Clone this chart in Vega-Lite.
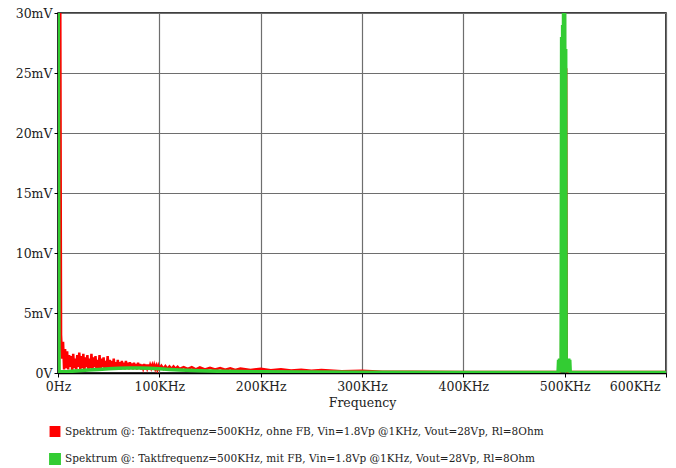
{
  "$schema": "https://vega.github.io/schema/vega-lite/v6.json",
  "width": 608,
  "height": 360,
  "autosize": {"type": "none"},
  "padding": {"left": 58, "top": 13, "right": 10, "bottom": 95},
  "background": "white",
  "config": {
    "view": {"stroke": "black", "strokeWidth": 1.5},
    "font": "DejaVu Serif",
    "axis": {
      "labelFont": "DejaVu Serif",
      "labelFontSize": 12.5,
      "labelColor": "#222",
      "titleFont": "DejaVu Serif",
      "titleFontSize": 12.5,
      "titleFontWeight": "normal",
      "titleColor": "#222",
      "gridColor": "#6e6e6e",
      "gridWidth": 1.2,
      "domainColor": "black",
      "domainWidth": 1.5,
      "tickColor": "black",
      "tickSize": 4,
      "labelPadding": 3
    }
  },
  "data": {
    "values": [
      {"series": "ohne", "f": 0, "v": 0.1},
      {"series": "ohne", "f": 1, "v": 0.3},
      {"series": "ohne", "f": 2, "v": 40},
      {"series": "ohne", "f": 3, "v": 3.2},
      {"series": "ohne", "f": 4, "v": 1.2},
      {"series": "ohne", "f": 5, "v": 2.6},
      {"series": "ohne", "f": 6, "v": 0.3},
      {"series": "ohne", "f": 7, "v": 2.0},
      {"series": "ohne", "f": 8, "v": 0.4},
      {"series": "ohne", "f": 9, "v": 1.8},
      {"series": "ohne", "f": 10, "v": 0.3},
      {"series": "ohne", "f": 11, "v": 1.5},
      {"series": "ohne", "f": 12, "v": 0.5},
      {"series": "ohne", "f": 13, "v": 1.4},
      {"series": "ohne", "f": 14, "v": 0.2},
      {"series": "ohne", "f": 15, "v": 1.6},
      {"series": "ohne", "f": 16, "v": 0.4},
      {"series": "ohne", "f": 17, "v": 1.2},
      {"series": "ohne", "f": 18, "v": 0.3},
      {"series": "ohne", "f": 19, "v": 1.5},
      {"series": "ohne", "f": 20, "v": 0.5},
      {"series": "ohne", "f": 21, "v": 1.7},
      {"series": "ohne", "f": 22, "v": 0.3},
      {"series": "ohne", "f": 23, "v": 1.4},
      {"series": "ohne", "f": 24, "v": 0.4},
      {"series": "ohne", "f": 25, "v": 1.6},
      {"series": "ohne", "f": 26, "v": 0.2},
      {"series": "ohne", "f": 27, "v": 1.3},
      {"series": "ohne", "f": 28, "v": 0.5},
      {"series": "ohne", "f": 29, "v": 1.5},
      {"series": "ohne", "f": 30, "v": 0.3},
      {"series": "ohne", "f": 31, "v": 1.2},
      {"series": "ohne", "f": 32, "v": 0.4},
      {"series": "ohne", "f": 33, "v": 1.6},
      {"series": "ohne", "f": 34, "v": 0.3},
      {"series": "ohne", "f": 35, "v": 1.3},
      {"series": "ohne", "f": 36, "v": 0.5},
      {"series": "ohne", "f": 37, "v": 1.4},
      {"series": "ohne", "f": 38, "v": 0.3},
      {"series": "ohne", "f": 39, "v": 1.1},
      {"series": "ohne", "f": 40, "v": 0.4},
      {"series": "ohne", "f": 41, "v": 1.5},
      {"series": "ohne", "f": 42, "v": 0.3},
      {"series": "ohne", "f": 43, "v": 1.2},
      {"series": "ohne", "f": 44, "v": 0.5},
      {"series": "ohne", "f": 45, "v": 1.3},
      {"series": "ohne", "f": 46, "v": 0.3},
      {"series": "ohne", "f": 47, "v": 1.0},
      {"series": "ohne", "f": 48, "v": 0.4},
      {"series": "ohne", "f": 49, "v": 1.4},
      {"series": "ohne", "f": 50, "v": 0.3},
      {"series": "ohne", "f": 51, "v": 1.1},
      {"series": "ohne", "f": 52, "v": 0.5},
      {"series": "ohne", "f": 53, "v": 1.0},
      {"series": "ohne", "f": 54, "v": 0.3},
      {"series": "ohne", "f": 55, "v": 1.2},
      {"series": "ohne", "f": 56, "v": 0.4},
      {"series": "ohne", "f": 57, "v": 0.9},
      {"series": "ohne", "f": 58, "v": 0.3},
      {"series": "ohne", "f": 59, "v": 1.1},
      {"series": "ohne", "f": 60, "v": 0.5},
      {"series": "ohne", "f": 61, "v": 0.9},
      {"series": "ohne", "f": 62, "v": 0.3},
      {"series": "ohne", "f": 63, "v": 1.0},
      {"series": "ohne", "f": 64, "v": 0.4},
      {"series": "ohne", "f": 65, "v": 0.85},
      {"series": "ohne", "f": 66, "v": 0.3},
      {"series": "ohne", "f": 67, "v": 1.0},
      {"series": "ohne", "f": 68, "v": 0.4},
      {"series": "ohne", "f": 69, "v": 0.85},
      {"series": "ohne", "f": 70, "v": 0.3},
      {"series": "ohne", "f": 71, "v": 0.9},
      {"series": "ohne", "f": 72, "v": 0.4},
      {"series": "ohne", "f": 73, "v": 0.8},
      {"series": "ohne", "f": 74, "v": 0.3},
      {"series": "ohne", "f": 75, "v": 0.85},
      {"series": "ohne", "f": 76, "v": 0.4},
      {"series": "ohne", "f": 77, "v": 0.75},
      {"series": "ohne", "f": 78, "v": 0.3},
      {"series": "ohne", "f": 79, "v": 0.85},
      {"series": "ohne", "f": 80, "v": 0.4},
      {"series": "ohne", "f": 81, "v": 0.75},
      {"series": "ohne", "f": 82, "v": 0.3},
      {"series": "ohne", "f": 83, "v": 0.7},
      {"series": "ohne", "f": 84, "v": 0.4},
      {"series": "ohne", "f": 85, "v": 0.75},
      {"series": "ohne", "f": 86, "v": 0.3},
      {"series": "ohne", "f": 87, "v": 0.7},
      {"series": "ohne", "f": 88, "v": 0.4},
      {"series": "ohne", "f": 89, "v": 0.7},
      {"series": "ohne", "f": 90, "v": 0.3},
      {"series": "ohne", "f": 91, "v": 0.65},
      {"series": "ohne", "f": 92, "v": 0.4},
      {"series": "ohne", "f": 93, "v": 0.65},
      {"series": "ohne", "f": 94, "v": 0.3},
      {"series": "ohne", "f": 95, "v": 0.65},
      {"series": "ohne", "f": 96, "v": 0.35},
      {"series": "ohne", "f": 97, "v": 0.6},
      {"series": "ohne", "f": 98, "v": 0.3},
      {"series": "ohne", "f": 99, "v": 0.6},
      {"series": "ohne", "f": 100, "v": 0.35},
      {"series": "ohne", "f": 102, "v": 0.6},
      {"series": "ohne", "f": 104, "v": 0.35},
      {"series": "ohne", "f": 106, "v": 0.58},
      {"series": "ohne", "f": 108, "v": 0.35},
      {"series": "ohne", "f": 110, "v": 0.55},
      {"series": "ohne", "f": 112, "v": 0.35},
      {"series": "ohne", "f": 114, "v": 0.55},
      {"series": "ohne", "f": 116, "v": 0.35},
      {"series": "ohne", "f": 118, "v": 0.52},
      {"series": "ohne", "f": 120, "v": 0.35},
      {"series": "ohne", "f": 124, "v": 0.5},
      {"series": "ohne", "f": 128, "v": 0.35},
      {"series": "ohne", "f": 132, "v": 0.48},
      {"series": "ohne", "f": 136, "v": 0.3},
      {"series": "ohne", "f": 140, "v": 0.46},
      {"series": "ohne", "f": 145, "v": 0.3},
      {"series": "ohne", "f": 150, "v": 0.44},
      {"series": "ohne", "f": 155, "v": 0.3},
      {"series": "ohne", "f": 160, "v": 0.42},
      {"series": "ohne", "f": 165, "v": 0.28},
      {"series": "ohne", "f": 170, "v": 0.4},
      {"series": "ohne", "f": 175, "v": 0.26},
      {"series": "ohne", "f": 180, "v": 0.38},
      {"series": "ohne", "f": 190, "v": 0.25},
      {"series": "ohne", "f": 200, "v": 0.35},
      {"series": "ohne", "f": 210, "v": 0.22},
      {"series": "ohne", "f": 220, "v": 0.32},
      {"series": "ohne", "f": 230, "v": 0.2},
      {"series": "ohne", "f": 240, "v": 0.28},
      {"series": "ohne", "f": 250, "v": 0.18},
      {"series": "ohne", "f": 260, "v": 0.24},
      {"series": "ohne", "f": 280, "v": 0.15},
      {"series": "ohne", "f": 300, "v": 0.18},
      {"series": "ohne", "f": 320, "v": 0.1},
      {"series": "ohne", "f": 350, "v": 0.1},
      {"series": "ohne", "f": 400, "v": 0.08},
      {"series": "ohne", "f": 450, "v": 0.08},
      {"series": "ohne", "f": 495, "v": 0.1},
      {"series": "ohne", "f": 496.5, "v": 0.8},
      {"series": "ohne", "f": 497.5, "v": 26.3},
      {"series": "ohne", "f": 499, "v": 1.0},
      {"series": "ohne", "f": 500, "v": 20},
      {"series": "ohne", "f": 501.5, "v": 25.4},
      {"series": "ohne", "f": 502, "v": 0.5},
      {"series": "ohne", "f": 503, "v": 0.1},
      {"series": "ohne", "f": 520, "v": 0.08},
      {"series": "ohne", "f": 560, "v": 0.08},
      {"series": "ohne", "f": 600, "v": 0.08},

      {"series": "mit", "f": 0, "v": 40},
      {"series": "mit", "f": 1, "v": 0.1},
      {"series": "mit", "f": 5, "v": 0.1},
      {"series": "mit", "f": 10, "v": 0.12},
      {"series": "mit", "f": 20, "v": 0.18},
      {"series": "mit", "f": 30, "v": 0.24},
      {"series": "mit", "f": 40, "v": 0.3},
      {"series": "mit", "f": 50, "v": 0.36},
      {"series": "mit", "f": 60, "v": 0.4},
      {"series": "mit", "f": 70, "v": 0.42},
      {"series": "mit", "f": 80, "v": 0.42},
      {"series": "mit", "f": 90, "v": 0.4},
      {"series": "mit", "f": 100, "v": 0.35},
      {"series": "mit", "f": 110, "v": 0.3},
      {"series": "mit", "f": 120, "v": 0.25},
      {"series": "mit", "f": 140, "v": 0.18},
      {"series": "mit", "f": 160, "v": 0.14},
      {"series": "mit", "f": 200, "v": 0.1},
      {"series": "mit", "f": 250, "v": 0.08},
      {"series": "mit", "f": 300, "v": 0.06},
      {"series": "mit", "f": 400, "v": 0.05},
      {"series": "mit", "f": 493.5, "v": 0.05},
      {"series": "mit", "f": 494, "v": 1.1},
      {"series": "mit", "f": 494.5, "v": 0.05},
      {"series": "mit", "f": 495, "v": 1.2},
      {"series": "mit", "f": 495.5, "v": 0.05},
      {"series": "mit", "f": 496, "v": 1.2},
      {"series": "mit", "f": 496.5, "v": 0.05},
      {"series": "mit", "f": 497, "v": 28},
      {"series": "mit", "f": 497.5, "v": 0.05},
      {"series": "mit", "f": 498, "v": 29},
      {"series": "mit", "f": 498.5, "v": 0.05},
      {"series": "mit", "f": 499, "v": 40},
      {"series": "mit", "f": 499.5, "v": 0.05},
      {"series": "mit", "f": 500, "v": 30},
      {"series": "mit", "f": 500.5, "v": 0.05},
      {"series": "mit", "f": 501, "v": 27},
      {"series": "mit", "f": 501.5, "v": 0.05},
      {"series": "mit", "f": 502, "v": 1.2},
      {"series": "mit", "f": 502.5, "v": 0.05},
      {"series": "mit", "f": 503, "v": 1.2},
      {"series": "mit", "f": 503.5, "v": 0.05},
      {"series": "mit", "f": 504, "v": 1.2},
      {"series": "mit", "f": 504.5, "v": 0.05},
      {"series": "mit", "f": 505, "v": 1.1},
      {"series": "mit", "f": 505.5, "v": 0.05},
      {"series": "mit", "f": 600, "v": 0.05}
    ]
  },
  "mark": {"type": "line", "clip": true, "strokeJoin": "miter", "interpolate": "linear"},
  "encoding": {
    "x": {
      "field": "f",
      "type": "quantitative",
      "sort": null,
      "scale": {"domain": [0, 600], "nice": false, "zero": false},
      "axis": {
        "values": [0, 100, 200, 300, 400, 500, 600],
        "labelExpr": "datum.value == 0 ? '0Hz' : datum.value + 'KHz'",
        "labelAlign": {"condition": {"test": "datum.value == 600", "value": "right"}, "value": "center"},
        "labelOffset": {"condition": {"test": "datum.value == 600", "value": -6}, "value": 0},
        "title": "Frequency",
        "titlePadding": 4
      }
    },
    "y": {
      "field": "v",
      "type": "quantitative",
      "scale": {"domain": [0, 30], "nice": false},
      "axis": {
        "values": [0, 5, 10, 15, 20, 25, 30],
        "labelExpr": "datum.value == 0 ? '0V' : datum.value + 'mV'",
        "labelPadding": 2,
        "title": null
      }
    },
    "color": {
      "field": "series",
      "type": "nominal",
      "sort": ["ohne", "mit"],
      "scale": {"domain": ["ohne", "mit"], "range": ["#ff0000", "#33cc33"]},
      "legend": {
        "orient": "none",
        "legendX": -9,
        "legendY": 413,
        "title": null,
        "symbolType": "square",
        "symbolSize": 70,
        "symbolStrokeWidth": 0,
        "labelFont": "DejaVu Serif",
        "labelFontSize": 10.5,
        "labelColor": "#222",
        "labelOffset": 4,
        "rowPadding": 6,
        "labelExpr": "datum.value == 'ohne' ? 'Spektrum @: Taktfrequenz=500KHz, ohne FB, Vin=1.8Vp @1KHz, Vout=28Vp, Rl=8Ohm' : 'Spektrum @: Taktfrequenz=500KHz, mit FB, Vin=1.8Vp @1KHz, Vout=28Vp, Rl=8Ohm'",
        "labelLimit": 700,
        "encode": {
          "symbols": {"update": {"fill": {"scale": "color", "field": "value"}, "strokeWidth": {"value": 0}}}
        }
      }
    },
    "strokeWidth": {
      "field": "series",
      "type": "nominal",
      "scale": {"domain": ["ohne", "mit"], "range": [2.5, 3.5]},
      "legend": null
    }
  }
}
